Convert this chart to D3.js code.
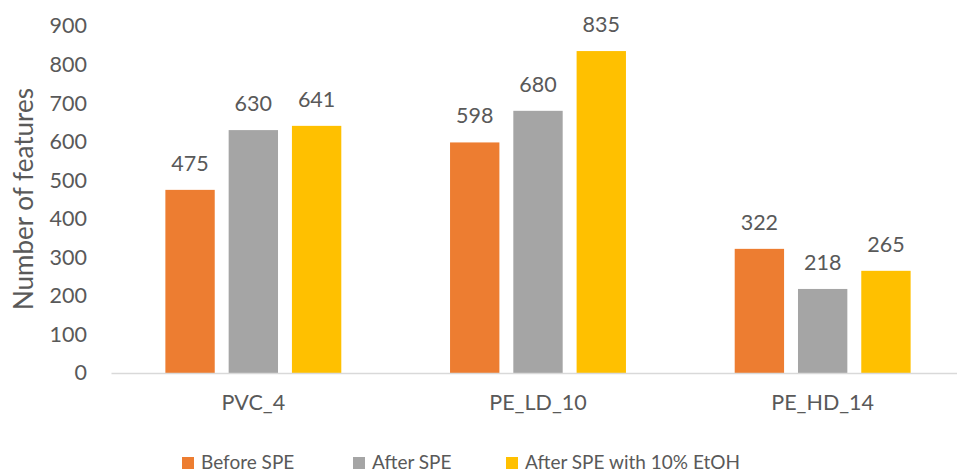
<!DOCTYPE html>
<html>
<head>
<meta charset="utf-8">
<script src="https://cdn.jsdelivr.net/npm/d3@7"></script>
<style>
  html, body { margin: 0; padding: 0; background: #fff; }
  svg { display: block; font-family: Lato, "Open Sans", sans-serif; }
</style>
</head>
<body>
<svg id="chart" width="957" height="474"></svg>
<script>
// Samples and measurement conditions
const categories = ["PVC_4", "PE_LD_10", "PE_HD_14"];
const seriesNames = ["Before SPE", "After SPE", "After SPE with 10% EtOH"];
const beforeSPE = [475, 598, 322];
const afterSPE = [630, 680, 218];
const afterSPEEtOH = [641, 835, 265];
const yTicks = [0, 100, 200, 300, 400, 500, 600, 700, 800, 900];
const colors = ["#ED7D31", "#A5A5A5", "#FFC000"];

const seriesValues = [beforeSPE, afterSPE, afterSPEEtOH];
const textColor = "#595959";

const svg = d3.select("#chart");

const x0 = d3.scaleBand()
  .domain(categories)
  .range([111, 965])
  .paddingInner(0.382)
  .paddingOuter(0.191);

const x1 = d3.scaleBand()
  .domain(seriesNames)
  .range([0, x0.bandwidth()])
  .paddingInner(0.22)
  .paddingOuter(0);

const y = d3.scaleLinear()
  .domain([0, 900])
  .range([373, 26]);

// Y axis labels (no line, no ticks)
const yAxis = svg.append("g")
  .attr("transform", "translate(111,0)")
  .call(d3.axisLeft(y).tickValues(yTicks).tickSize(0).tickPadding(24));
yAxis.select(".domain").remove();
yAxis.selectAll("text")
  .attr("fill", textColor)
  .style("font-family", "Lato, 'Open Sans', sans-serif")
  .style("font-size", "21.5px");

// Bars
const groups = svg.selectAll("g.cat")
  .data(categories)
  .join("g")
  .attr("class", "cat")
  .attr("transform", d => `translate(${x0(d)},0)`);

groups.each(function(cat, ci) {
  const g = d3.select(this);
  const rows = seriesNames.map((s, si) => ({ s, si, v: seriesValues[si][ci] }));
  g.selectAll("rect")
    .data(rows)
    .join("rect")
    .attr("x", d => x1(d.s))
    .attr("y", d => y(d.v))
    .attr("width", x1.bandwidth())
    .attr("height", d => y(0) - y(d.v))
    .attr("fill", d => colors[d.si]);
  g.selectAll("text.val")
    .data(rows)
    .join("text")
    .attr("class", "val")
    .attr("x", d => x1(d.s) + x1.bandwidth() / 2)
    .attr("y", d => y(d.v) - 19)
    .attr("text-anchor", "middle")
    .attr("fill", textColor)
    .style("font-size", "21.5px")
    .text(d => d.v);
});

// Category axis
const xAxis = svg.append("g")
  .attr("transform", `translate(0,${y(0)})`)
  .call(d3.axisBottom(x0).tickSize(0).tickPadding(22));
xAxis.select(".domain").attr("stroke", "#D9D9D9").attr("stroke-width", 1.3);
xAxis.selectAll("text")
  .attr("fill", textColor)
  .style("font-family", "Lato, 'Open Sans', sans-serif")
  .style("font-size", "21.5px");

// Y axis title
svg.append("text")
  .attr("transform", "translate(33,199) rotate(-90)")
  .attr("text-anchor", "middle")
  .attr("fill", textColor)
  .style("font-size", "26px")
  .text("Number of features");

// Legend
const legendX = [182, 353, 506];
const legend = svg.selectAll("g.legend")
  .data(seriesNames)
  .join("g")
  .attr("class", "legend")
  .attr("transform", (d, i) => `translate(${legendX[i]},456)`);
legend.append("rect")
  .attr("y", 1)
  .attr("width", 12)
  .attr("height", 12)
  .attr("fill", (d, i) => colors[i]);
legend.append("text")
  .attr("x", 19)
  .attr("y", 13)
  .attr("fill", textColor)
  .style("font-size", "19px")
  .text(d => d);
</script>
</body>
</html>
